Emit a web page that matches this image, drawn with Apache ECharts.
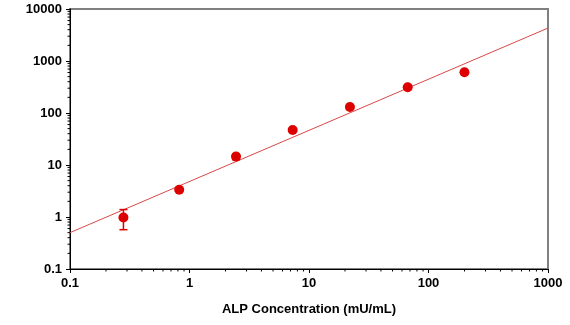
<!DOCTYPE html>
<html><head><meta charset="utf-8">
<script src="https://cdn.jsdelivr.net/npm/echarts@6/dist/echarts.min.js"></script>
<style>html,body{margin:0;padding:0;background:#fff}#c{width:570px;height:325px}</style>
</head><body><div id="c"></div>
<script>
// Measured points (ALP concentration vs signal)
const xValues = [0.28, 0.82, 2.45, 7.3, 22, 67, 200];
const yValues = [0.98, 3.35, 14.5, 47, 130, 312, 610];
const yLow    = [0.57, 3.35, 12.8, 47, 130, 312, 610];
const yHigh   = [1.39, 3.35, 16.2, 47, 130, 312, 610];
// Fitted line endpoints
const fitX = [0.1, 1000];
const fitY = [0.5, 4300];
// Axis ranges
const xMin = 0.1, xMax = 1000, yMin = 0.1, yMax = 10000;
const xDecades = [0.1, 1, 10, 100];
const yDecades = [0.1, 1, 10, 100, 1000];
const minorMult = [2, 3, 4, 5, 6, 7, 8, 9];

const xMinor = [];
xDecades.forEach(d => minorMult.forEach(m => xMinor.push([+(d * m).toPrecision(3), yMin])));
const yMinor = [];
yDecades.forEach(d => minorMult.forEach(m => yMinor.push([xMin, +(d * m).toPrecision(3)])));

const pts = xValues.map((x, i) => [x, yValues[i]]);
const errs = xValues.map((x, i) => [x, yLow[i], yHigh[i]]).filter(e => e[1] !== e[2]);
const fit = fitX.map((x, i) => [x, fitY[i]]);

const chart = echarts.init(document.getElementById('c'), null, {renderer: 'canvas'});
const labelStyle = {color: '#000', fontWeight: 'bold', fontSize: 13, fontFamily: 'Liberation Sans, Arial, sans-serif'};
chart.setOption({
  animation: false,
  grid: {left: 70, right: 22, top: 9, bottom: 56, show: true, borderColor: '#808080', borderWidth: 2, backgroundColor: 'transparent'},
  xAxis: {
    type: 'log', logBase: 10, min: xMin, max: xMax,
    name: 'ALP Concentration (mU/mL)', nameLocation: 'middle', nameGap: 34,
    nameTextStyle: {color: '#000', fontWeight: 'bold', fontSize: 13, fontFamily: 'Liberation Sans, Arial, sans-serif'},
    axisLine: {lineStyle: {color: '#000', width: 1}},
    axisTick: {inside: false, length: 4, lineStyle: {color: '#000'}},
    minorTick: {show: false},
    splitLine: {show: false},
    axisLabel: Object.assign({margin: 8}, labelStyle, {formatter: v => String(+v.toPrecision(3))})
  },
  yAxis: {
    type: 'log', logBase: 10, min: yMin, max: yMax,
    axisLine: {lineStyle: {color: '#000', width: 1}},
    axisTick: {inside: false, length: 4, lineStyle: {color: '#000'}},
    minorTick: {show: false},
    splitLine: {show: false},
    axisLabel: Object.assign({margin: 8}, labelStyle, {formatter: v => String(+v.toPrecision(3))})
  },
  series: [
    {
      type: 'line', data: fit, symbol: 'none', z: 2,
      lineStyle: {color: '#d84848', width: 1}
    },
    {
      type: 'custom', data: errs, z: 3,
      encode: {x: 0, y: [1, 2]},
      renderItem: function (params, api) {
        const x = api.value(0);
        const lo = api.coord([x, api.value(1)]);
        const hi = api.coord([x, api.value(2)]);
        const w = 4;
        const st = {stroke: '#dd0000', lineWidth: 1.5};
        return {type: 'group', children: [
          {type: 'line', shape: {x1: lo[0], y1: lo[1], x2: hi[0], y2: hi[1]}, style: st},
          {type: 'line', shape: {x1: lo[0] - w, y1: lo[1], x2: lo[0] + w, y2: lo[1]}, style: st},
          {type: 'line', shape: {x1: hi[0] - w, y1: hi[1], x2: hi[0] + w, y2: hi[1]}, style: st}
        ]};
      }
    },
    {
      type: 'scatter', data: pts, symbol: 'circle', symbolSize: 10, z: 4,
      itemStyle: {color: '#dd0000', opacity: 1}
    },
    {
      type: 'custom', data: xMinor, clip: false, silent: true,
      renderItem: function (params, api) {
        const p = api.coord([api.value(0), api.value(1)]);
        return {type: 'line', shape: {x1: p[0], y1: p[1], x2: p[0], y2: p[1] + 2.5}, style: {stroke: '#000', lineWidth: 1}};
      }
    },
    {
      type: 'custom', data: yMinor, clip: false, silent: true,
      renderItem: function (params, api) {
        const p = api.coord([api.value(0), api.value(1)]);
        return {type: 'line', shape: {x1: p[0] - 2.5, y1: p[1], x2: p[0], y2: p[1]}, style: {stroke: '#000', lineWidth: 1}};
      }
    }
  ]
});
</script></body></html>
